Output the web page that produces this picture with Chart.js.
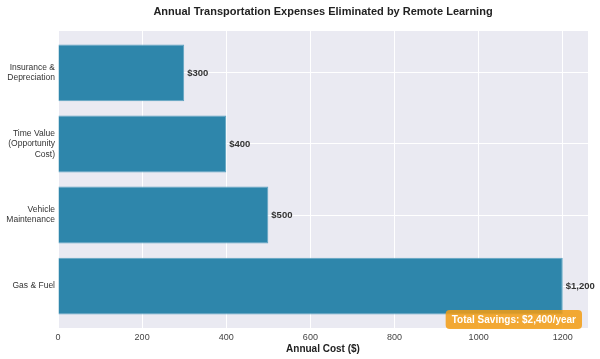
<!DOCTYPE html>
<html>
<head>
<meta charset="utf-8">
<script src="https://cdn.jsdelivr.net/npm/chart.js@4/dist/chart.umd.min.js"></script>
<style>
  html, body { margin: 0; padding: 0; background: #fff; }
  #wrap { width: 600px; height: 359px; }
</style>
</head>
<body>
<div id="wrap"><canvas id="myChart"></canvas></div>
<script>
// bottom to top, like the original index order
let categories = [["Gas & Fuel"], ["Vehicle", "Maintenance"], ["Time Value", "(Opportunity", "Cost)"], ["Insurance &", "Depreciation"]];
let costs = [1200, 500, 400, 300];
let xTicks = [0, 200, 400, 600, 800, 1000, 1200];
let totalLabel = "Total Savings: $2,400/year";

const FONT = "'Liberation Sans', Arial, sans-serif";

// plot background, title, value labels and the savings box
let extras = {
  id: 'extras',
  beforeDraw(chart) {
    let a = chart.chartArea, ctx = chart.ctx;
    ctx.save();
    ctx.fillStyle = '#EAEAF2';
    ctx.fillRect(a.left, a.top, a.right - a.left, a.bottom - a.top);
    ctx.restore();
  },
  afterDraw(chart) {
    let a = chart.chartArea, ctx = chart.ctx;
    ctx.save();
    ctx.fillStyle = '#222';
    ctx.font = 'bold 11px ' + FONT;
    ctx.textAlign = 'center';
    ctx.textBaseline = 'middle';
    ctx.fillText('Annual Transportation Expenses Eliminated by Remote Learning', (a.left + a.right) / 2, 12);

    // value labels
    let meta = chart.getDatasetMeta(0);
    ctx.font = 'bold 9.5px ' + FONT;
    ctx.textAlign = 'left';
    ctx.fillStyle = '#333';
    meta.data.forEach((bar, i) => {
      ctx.fillText('$' + costs[i].toLocaleString('en-US'), bar.x + 3, bar.y);
    });

    // savings box
    ctx.font = 'bold 10px ' + FONT;
    let w = ctx.measureText(totalLabel).width + 12, h = 19;
    let x = a.right - 6 - w, y = a.bottom - h + 1;
    ctx.fillStyle = 'rgba(243, 156, 18, 0.85)';
    ctx.beginPath();
    ctx.roundRect(x, y, w, h, 4);
    ctx.fill();
    ctx.fillStyle = '#fff';
    ctx.textAlign = 'center';
    ctx.fillText(totalLabel, x + w / 2, y + h / 2 + 0.5);
    ctx.restore();
  }
};

let ctx = document.getElementById('myChart').getContext('2d');

let chart = new Chart(ctx, {
  type: 'bar',
  data: {
    datasets: [{
      data: costs.map((v, i) => ({ x: v, y: i })),
      backgroundColor: '#2E86AB',
      borderColor: '#5FA3C2',
      borderWidth: 1,
      barPercentage: 0.8,
      categoryPercentage: 1
    }]
  },
  options: {
    indexAxis: 'y',
    responsive: true,
    maintainAspectRatio: false,
    animation: false,
    layout: { padding: { top: 31, right: 12, left: 0, bottom: 0 } },
    plugins: { legend: { display: false }, tooltip: { enabled: false } },
    scales: {
      x: {
        type: 'linear',
        min: 0,
        max: 1260,
        afterBuildTicks: s => { s.ticks = xTicks.map(v => ({ value: v })); },
        grid: { color: '#ffffff', lineWidth: 1, drawTicks: false },
        border: { display: false },
        ticks: { color: '#444', font: { family: FONT, size: 9 }, padding: 4, maxRotation: 0, callback: v => String(v) },
        title: { display: true, text: 'Annual Cost ($)', color: '#222', font: { family: FONT, size: 10, weight: 'bold' }, padding: { top: 1, bottom: 4 } },
        afterFit: s => { s.height = 31; }
      },
      y: {
        type: 'linear',
        min: -0.59,
        max: 3.59,
        offset: false,
        afterBuildTicks: s => { s.ticks = categories.map((c, i) => ({ value: i })); },
        grid: { color: '#ffffff', lineWidth: 1, drawTicks: false, offset: false },
        border: { display: false },
        ticks: {
          color: '#333',
          font: { family: FONT, size: 8.5 },
          padding: 3,
          callback: v => categories[v]
        },
        afterFit: s => { s.width = 58; }
      }
    }
  },
  plugins: [extras]
});
</script>
</body>
</html>
